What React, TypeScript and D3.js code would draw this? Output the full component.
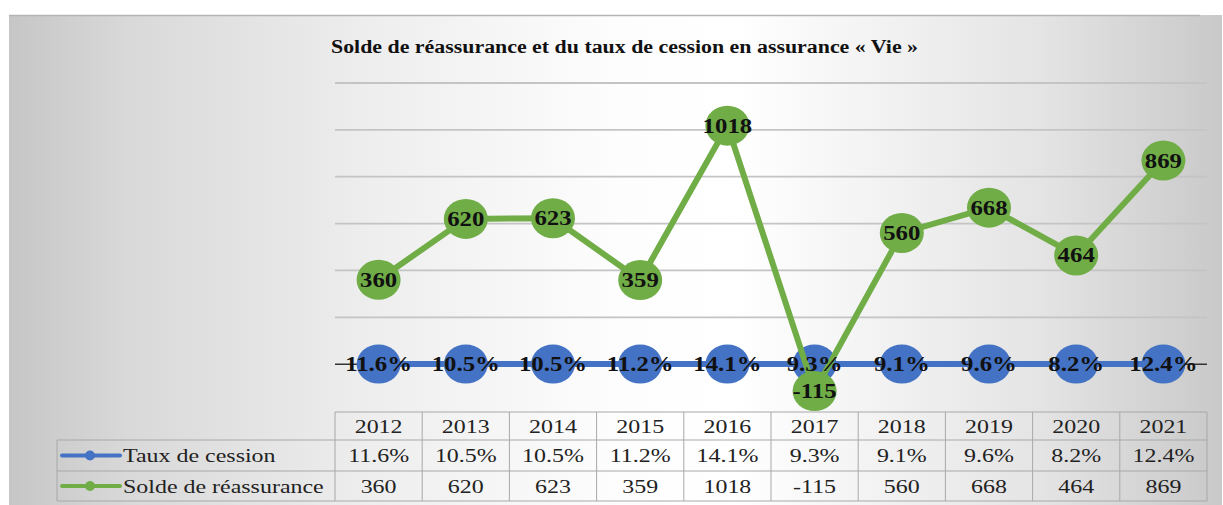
import { useEffect, useRef } from 'react';
import * as d3 from 'd3';

const years = ['2012', '2013', '2014', '2015', '2016', '2017', '2018', '2019', '2020', '2021'];
const tauxCession = [11.6, 10.5, 10.5, 11.2, 14.1, 9.3, 9.1, 9.6, 8.2, 12.4];
const soldeReassurance = [360, 620, 623, 359, 1018, -115, 560, 668, 464, 869];
const gridTicks = [-200, 0, 200, 400, 600, 800, 1000, 1200];
const title = 'Solde de réassurance et du taux de cession en assurance « Vie »';

const App = () => {
  const chartRef = useRef<SVGSVGElement>(null);

  useEffect(() => {
    const W = 1223,
      H = 505;
    const svg = d3.select(chartRef.current);
    svg.attr('width', W).attr('height', H);
    svg.selectAll('*').remove();

    const blue = '#4472c4';
    const green = '#70ad47';
    const serif = 'Liberation Serif, serif';
    const sx = 1.26; // picture is stretched horizontally

    // background gradient
    const defs = svg.append('defs');
    const grad = defs.append('linearGradient').attr('id', 'bg').attr('x1', 0).attr('x2', 1).attr('y1', 0).attr('y2', 0);
    [
      [0, '#c6c6c6'],
      [0.1, '#d9d9d9'],
      [0.3, '#eeeeee'],
      [0.5, '#fdfdfd'],
      [0.6, '#ffffff'],
      [0.85, '#e4e4e4'],
      [1, '#c9c9c9'],
    ].forEach(([o, c]) => grad.append('stop').attr('offset', o as number).attr('stop-color', c as string));

    svg.append('rect').attr('width', W).attr('height', H).attr('fill', '#fff');
    svg.append('rect').attr('x', 9).attr('y', 15).attr('width', 1213).attr('height', 490).attr('fill', 'url(#bg)');
    svg.append('line').attr('x1', 9).attr('x2', 1200).attr('y1', 15.5).attr('y2', 15.5).attr('stroke', '#b4b4b4').attr('stroke-width', 1.5);

    // scales
    const x = d3.scaleBand().domain(years).range([335, 1207]);
    const y = d3.scaleLinear().domain([-200, 1200]).range([411, 83]);
    const cx = (i: number) => (x(years[i]) as number) + x.bandwidth() / 2;

    // title
    svg
      .append('text')
      .attr('x', 331)
      .attr('y', 53)
      .attr('font-family', serif)
      .attr('font-weight', 'bold')
      .attr('font-size', 18)
      .attr('textLength', 587)
      .attr('lengthAdjust', 'spacingAndGlyphs')
      .attr('fill', '#111')
      .text(title);

    // gridlines
    svg
      .append('g')
      .selectAll('line')
      .data(gridTicks.filter((t) => t > -200 && t !== 0))
      .enter()
      .append('line')
      .attr('x1', 335)
      .attr('x2', 1207)
      .attr('y1', (d) => y(d))
      .attr('y2', (d) => y(d))
      .attr('stroke', '#c4c4c4')
      .attr('stroke-width', 1.8);

    // zero axis
    svg.append('line').attr('x1', 335).attr('x2', 1207).attr('y1', y(0)).attr('y2', y(0)).attr('stroke', '#333').attr('stroke-width', 1.5);

    const line = d3
      .line<number>()
      .x((_, i) => cx(i))
      .y((d) => y(d));

    // taux de cession (plotted as ratio on the same axis)
    const tauxVals = tauxCession.map((v) => v / 100);
    svg.append('path').datum(tauxVals).attr('d', line).attr('fill', 'none').attr('stroke', blue).attr('stroke-width', 6);
    svg
      .append('g')
      .selectAll('ellipse')
      .data(tauxVals)
      .enter()
      .append('ellipse')
      .attr('cx', (_, i) => cx(i))
      .attr('cy', (d) => y(d))
      .attr('rx', 22)
      .attr('ry', 19.5)
      .attr('fill', blue);

    // solde de reassurance
    svg.append('path').datum(soldeReassurance).attr('d', line).attr('fill', 'none').attr('stroke', green).attr('stroke-width', 6);
    svg
      .append('g')
      .selectAll('ellipse')
      .data(soldeReassurance)
      .enter()
      .append('ellipse')
      .attr('cx', (_, i) => cx(i))
      .attr('cy', (d) => y(d))
      .attr('rx', 22)
      .attr('ry', 20)
      .attr('fill', green);

    // data labels
    const label = (vals: number[], fmt: (v: number) => string, raw: number[]) =>
      svg
        .append('g')
        .selectAll('text')
        .data(vals)
        .enter()
        .append('text')
        .attr('transform', (d, i) => `translate(${cx(i)},${y(d) + 7}) scale(1.24,1)`)
        .attr('text-anchor', 'middle')
        .attr('font-family', serif)
        .attr('font-weight', 'bold')
        .attr('font-size', 20)
        .attr('fill', '#111')
        .text((_, i) => fmt(raw[i]));
    label(tauxVals, (v) => `${v.toFixed(1)}%`, tauxCession);
    label(soldeReassurance, (v) => `${v}`, soldeReassurance);

    // data table
    const rows = [412, 440, 471, 501];
    const border = '#a8a8a8';
    const tbl = svg.append('g').attr('stroke', border).attr('stroke-width', 1).attr('fill', 'none');
    tbl.append('line').attr('x1', 335).attr('x2', 1207).attr('y1', rows[0]).attr('y2', rows[0]);
    [rows[1], rows[2], rows[3]].forEach((ry) => tbl.append('line').attr('x1', 57).attr('x2', 1207).attr('y1', ry).attr('y2', ry));
    tbl.append('line').attr('x1', 57).attr('x2', 57).attr('y1', rows[1]).attr('y2', rows[3]);
    [...years.map((yr) => x(yr) as number), 1207].forEach((vx) =>
      tbl.append('line').attr('x1', vx).attr('x2', vx).attr('y1', rows[0]).attr('y2', rows[3])
    );

    const cellText = (txt: string, tx: number, ty: number, anchor = 'middle') =>
      svg
        .append('text')
        .attr('transform', `translate(${tx},${ty}) scale(${sx},1)`)
        .attr('text-anchor', anchor)
        .attr('font-family', serif)
        .attr('font-size', 19)
        .attr('fill', '#222')
        .text(txt);

    const rowMid = (r: number) => (rows[r] + rows[r + 1]) / 2 + 6.5;
    years.forEach((yr, i) => {
      cellText(yr, cx(i), rowMid(0));
      cellText(`${tauxCession[i].toFixed(1)}%`, cx(i), rowMid(1));
      cellText(`${soldeReassurance[i]}`, cx(i), rowMid(2));
    });

    // legend keys in row headers
    const keys: [string, string][] = [
      ['Taux de cession', blue],
      ['Solde de réassurance', green],
    ];
    keys.forEach(([name, col], r) => {
      const my = (rows[r + 1] + rows[r + 2]) / 2;
      svg.append('line').attr('x1', 62).attr('x2', 120).attr('y1', my).attr('y2', my).attr('stroke', col).attr('stroke-width', 4).attr('stroke-linecap', 'round');
      svg.append('circle').attr('cx', 90).attr('cy', my).attr('r', 5).attr('fill', col);
      cellText(name, 123, my + 6.5, 'start');
    });

    return () => {
      d3.select(chartRef.current).selectAll('*').remove();
    };
  }, []);

  return (
    <div style={{ position: 'absolute', left: 0, top: 0 }}>
      <svg ref={chartRef} style={{ display: 'block' }}></svg>
    </div>
  );
};

export default App;
